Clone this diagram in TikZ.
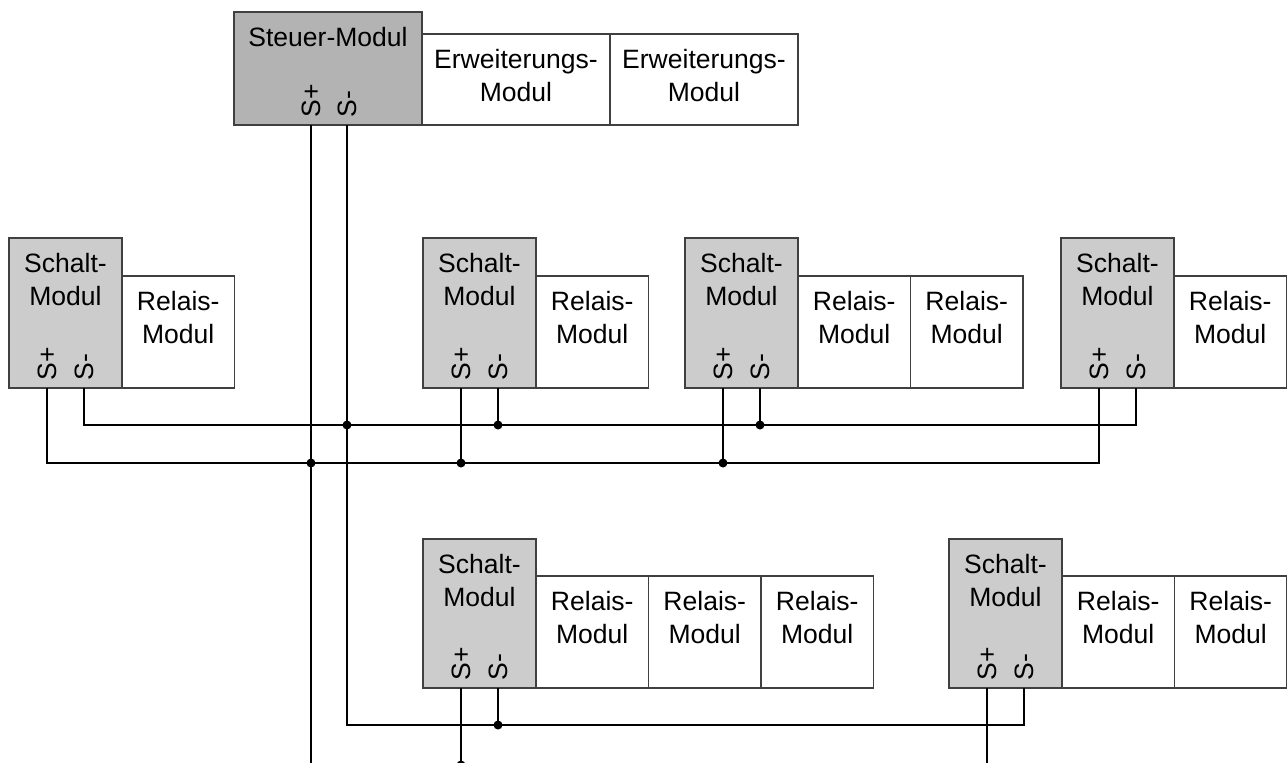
\documentclass[tikz,border=0pt]{standalone}
\usepackage{fontspec}
\setmainfont{Liberation Sans}
\usepackage{xcolor}
\usepackage{tikz}
\usetikzlibrary{calc}

\definecolor{steuergray}{HTML}{B3B3B3}
\definecolor{schaltgray}{HTML}{CCCCCC}
\definecolor{boxline}{HTML}{404040}

\begin{document}
\begin{tikzpicture}[x=0.02cm,y=-0.02cm,
  box/.style={draw=boxline,line width=0.85pt},
  modtext/.style={anchor=north,align=center,inner sep=0pt,font=\fontsize{15.1}{18.8}\selectfont},
  term/.style={rotate=90,anchor=west,inner sep=0pt,font=\fontsize{15.1}{18}\selectfont},
  wire/.style={line width=0.85pt},
  junction/.style={circle,fill,inner sep=0pt,minimum size=0.18cm}]
\useasboundingbox (0,0) rectangle (1287,762);
\clip (0,0) rectangle (1287,762);

% Steuer-Modul with Erweiterungs-Module
\draw[box,fill=steuergray] (234,12) rectangle (422,125);
\foreach \x in {422,610}
    \draw[box] (\x,34) rectangle (\x+188,125);
\node[modtext] (steuer) at (328,26.6) {Steuer-Modul};
\node[modtext] (erw1) at (516,48.6) {Erweiterungs-\\Modul};
\node[modtext] (erw2) at (704,48.6) {Erweiterungs-\\Modul};
\node[term] (sp0) at (311,118) {S+};
\node[term] (sm0) at (347,118) {S-};
\coordinate (tp0) at (311,125);
\coordinate (tm0) at (347,125);

% Schalt-Module, upper row
\foreach \n/\l/\r in {a/9/1, b/423/1, c/685/2, d/1061/1} {
    \draw[box,fill=schaltgray] (\l,238) rectangle (\l+113,388);
    \foreach \k in {1,...,\r}
        \draw[box] (\l+0.5+112.5*\k,276) rectangle (\l+113+112.5*\k,388);
    \node[modtext] (schalt\n) at (\l+56.5,252.6) {Schalt-\\Modul};
    \foreach \k in {1,...,\r}
        \node[modtext] (relais\n\k) at (\l+56.75+112.5*\k,290.6) {Relais-\\Modul};
    \node[term] (sp\n) at (\l+38,381) {S+};
    \node[term] (sm\n) at (\l+75,381) {S-};
    \coordinate (tp\n) at (\l+38,388);
    \coordinate (tm\n) at (\l+75,388);
}

% Schalt-Module, lower row
\foreach \n/\l/\r in {e/423/3, f/949/2} {
    \draw[box,fill=schaltgray] (\l,539) rectangle (\l+113,688);
    \foreach \k in {1,...,\r}
        \draw[box] (\l+0.5+112.5*\k,576) rectangle (\l+113+112.5*\k,688);
    \node[modtext] (schalt\n) at (\l+56.5,553.6) {Schalt-\\Modul};
    \foreach \k in {1,...,\r}
        \node[modtext] (relais\n\k) at (\l+56.75+112.5*\k,590.6) {Relais-\\Modul};
    \node[term] (sp\n) at (\l+38,681) {S+};
    \node[term] (sm\n) at (\l+75,681) {S-};
    \coordinate (tp\n) at (\l+38,688);
    \coordinate (tm\n) at (\l+75,688);
}

% Bus levels
\coordinate (busm) at (0,425);
\coordinate (busp) at (0,463);
\coordinate (busmlow) at (0,725);
\coordinate (busplow) at (0,765);

% S- wiring
\draw[wire] (tma) -- (tma |- busm) -- (tmd |- busm) -- (tmd);
\draw[wire] (tm0) -- (tm0 |- busmlow) -- (tmf |- busmlow) -- (tmf);
\foreach \t/\b in {tmb/busm, tmc/busm, tme/busmlow}
    \draw[wire] (\t) -- (\t |- \b);

% S+ wiring
\draw[wire] (tpa) -- (tpa |- busp) -- (tpd |- busp) -- (tpd);
\draw[wire] (tp0) -- (tp0 |- busplow) -- (tpf |- busplow) -- (tpf);
\foreach \t/\b in {tpb/busp, tpc/busp, tpe/busplow}
    \draw[wire] (\t) -- (\t |- \b);

% Junctions
\foreach \t/\b in {tm0/busm, tmb/busm, tmc/busm, tp0/busp, tpb/busp, tpc/busp, tme/busmlow, tpe/busplow}
    \node[junction] (j\t\b) at (\t |- \b) {};
\end{tikzpicture}
\end{document}
